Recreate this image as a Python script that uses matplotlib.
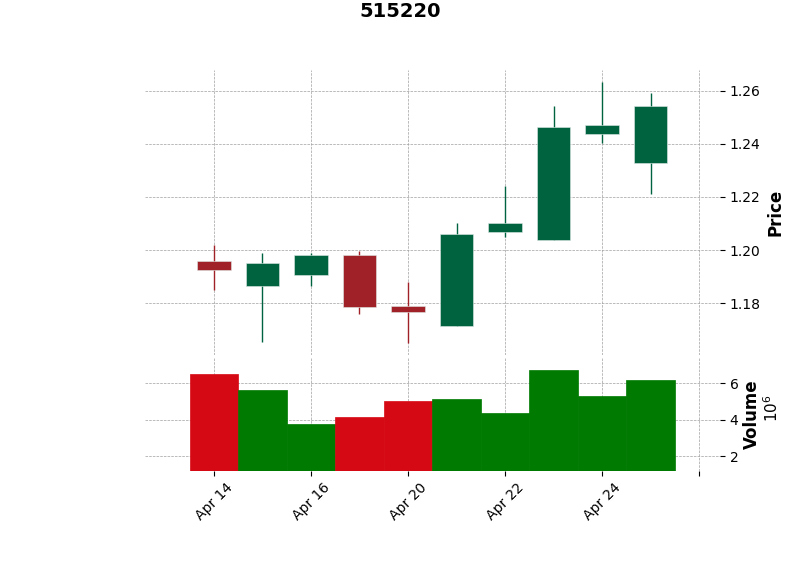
import matplotlib
matplotlib.use("Agg")
import matplotlib.pyplot as plt
import numpy as np
import pandas as pd

dates = ["2020-04-14", "2020-04-15", "2020-04-16", "2020-04-17", "2020-04-20",
         "2020-04-21", "2020-04-22", "2020-04-23", "2020-04-24", "2020-04-27"]
opens = [1.196, 1.1864, 1.1906, 1.1982, 1.1789, 1.1713, 1.2068, 1.2037, 1.2438, 1.2328]
highs = [1.2018, 1.1987, 1.1990, 1.1997, 1.1878, 1.2101, 1.2242, 1.2543, 1.2633, 1.2591]
lows = [1.1849, 1.1654, 1.1865, 1.1757, 1.1648, 1.1713, 1.2048, 1.2037, 1.2403, 1.2210]
closes = [1.1925, 1.1952, 1.1982, 1.1785, 1.1766, 1.2062, 1.2103, 1.2465, 1.2473, 1.2545]
volumes = [6.50e6, 5.64e6, 3.75e6, 4.12e6, 5.04e6, 5.15e6, 4.34e6, 6.72e6, 5.31e6, 6.18e6]
title = "515220"

UP, DOWN = "#006340", "#A02128"
VUP, VDOWN = "#007a00", "#d50913"

plt.rcParams["font.size"] = 10
fig = plt.figure(figsize=(8, 5.75), dpi=100)
W, H = 800, 575
left, right = 145, 720
ax = fig.add_axes([left / W, (H - 355) / H, (right - left) / W, (355 - 70) / H])
axv = fig.add_axes([left / W, (H - 471) / H, (right - left) / W, (471 - 358.3) / H], sharex=ax)

dt = pd.to_datetime(dates)
x = np.arange(len(dates))
o, h, l, c = map(np.array, (opens, highs, lows, closes))
v = np.array(volumes)
up = c >= o
cols = np.where(up, UP, DOWN)
vcols = np.where(up, VUP, VDOWN)

ax.vlines(x, l, h, colors=cols, linewidth=1.0, zorder=3)
ax.bar(x, np.abs(c - o), bottom=np.minimum(o, c), width=0.69, color=cols,
       edgecolor="#dfe9e4", linewidth=0.4, zorder=4)
axv.bar(x, v, width=1.0, color=vcols, edgecolor=vcols, linewidth=0.5, zorder=3)

for a in (ax, axv):
    a.set_facecolor("white")
    for s in a.spines.values():
        s.set_visible(False)
    a.grid(True, color="#a0a0a0", linestyle="--", linewidth=0.5)
    a.set_axisbelow(True)
    a.yaxis.tick_right()
    a.yaxis.set_label_position("right")

ax.set_xlim(-1.42, 10.43)
ax.set_ylim(1.1604, 1.2679)
ax.set_yticks([1.18, 1.20, 1.22, 1.24, 1.26])
ax.set_yticklabels([f"{t:.2f}" for t in [1.18, 1.20, 1.22, 1.24, 1.26]])
ax.set_ylabel("Price", fontsize=12, fontweight="bold", labelpad=4)
ax.tick_params(axis="x", bottom=False, labelbottom=False)

tick_idx = [0, 2, 4, 6, 8, 10]
tick_lab = [dt[i].strftime("%b %d").replace(" 0", " ") if i < len(dt) else "" for i in tick_idx]
axv.set_xticks(tick_idx)
axv.set_xticklabels(tick_lab, rotation=45, ha="center")
axv.set_ylim(1.2e6, 7.35e6)
axv.set_yticks([2e6, 4e6, 6e6])
axv.set_yticklabels(["2", "4", "6"])
axv.set_ylabel("Volume", fontsize=12, fontweight="bold", labelpad=3)
fig.text(772 / W, 1 - 408 / H, r"$10^6$", rotation=90, ha="center", va="center", fontsize=11)

fig.suptitle(title, fontsize=14, fontweight="bold", y=1 - 2 / H)

fig.savefig("out.png", dpi=100, facecolor="white")
